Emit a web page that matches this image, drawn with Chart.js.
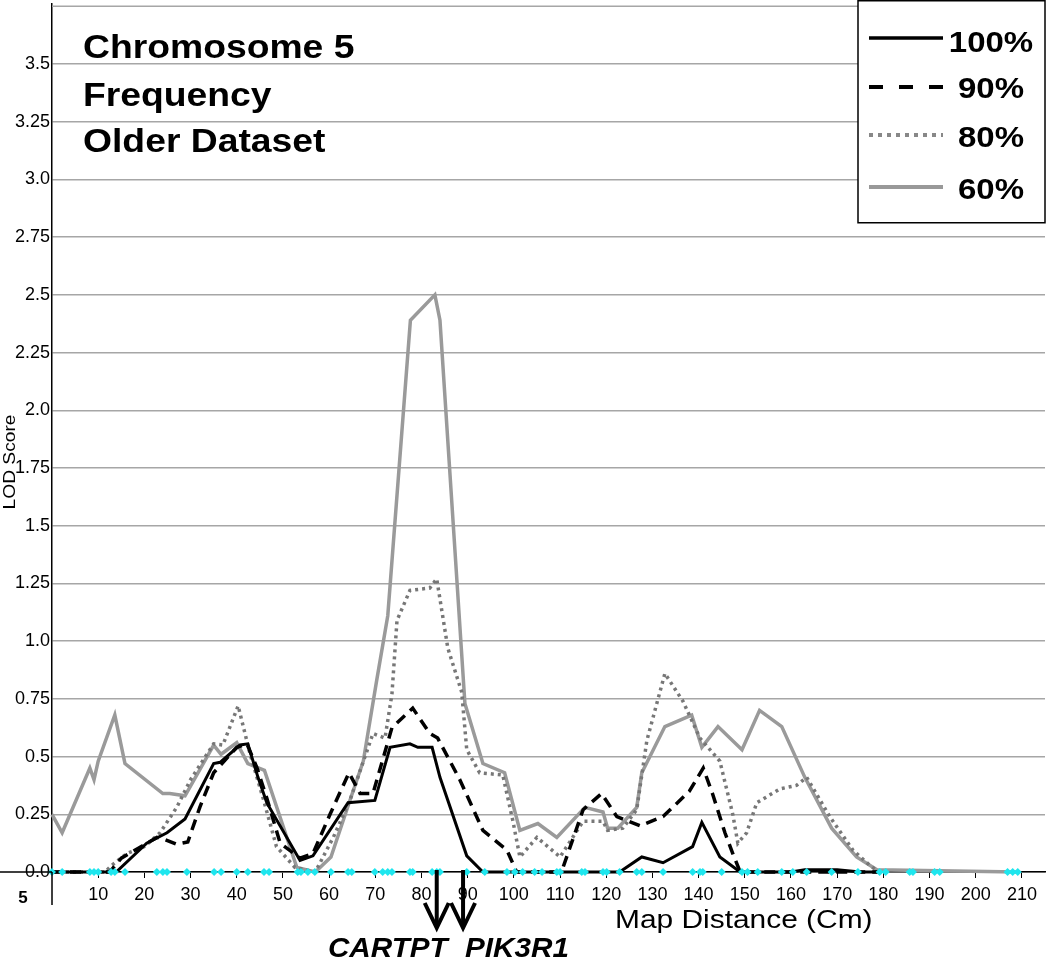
<!DOCTYPE html>
<html>
<head>
<meta charset="utf-8">
<script src="https://cdn.jsdelivr.net/npm/chart.js@4/dist/chart.umd.min.js"></script>
<style>
  html, body { margin: 0; padding: 0; background: #fff; }
</style>
</head>
<body>
<canvas id="lodChart" width="1050" height="960"></canvas>
<script>
// map positions (cM) and LOD scores
var pos100 = [0, 13.9, 20.5, 24.9, 28.8, 35, 36.4, 40.7, 42.4, 44.6, 46.5, 53.7, 56.5, 64.1, 69.9, 73.2, 77.5, 79.2, 82.3, 84, 89.8, 93.3, 122.9, 127.7, 132.3, 138.7, 140.7, 144.6, 149, 160, 163, 170, 175, 179];
var lod100 = [0, 0, 0.125, 0.17, 0.23, 0.47, 0.475, 0.55, 0.555, 0.41, 0.30, 0.05, 0.07, 0.30, 0.31, 0.54, 0.555, 0.54, 0.54, 0.41, 0.07, 0, 0, 0.065, 0.04, 0.11, 0.215, 0.065, 0, 0, 0.01, 0.01, 0, 0];

var pos90 = [0, 12.5, 15, 22.7, 24.5, 27, 29.4, 32, 35, 36.8, 40, 42.2, 44.4, 46.5, 49.4, 53.7, 56.5, 60.2, 64.3, 66.7, 69.5, 73.6, 78.1, 81.8, 83.5, 88.3, 93.3, 98.5, 100.6, 110.3, 115, 119, 122.3, 127.3, 132.3, 138, 141, 143, 145.7, 147.4, 149, 179];
var lod90 = [0, 0, 0.06, 0.15, 0.14, 0.12, 0.13, 0.28, 0.43, 0.47, 0.54, 0.555, 0.45, 0.32, 0.125, 0.06, 0.08, 0.25, 0.43, 0.34, 0.34, 0.625, 0.71, 0.60, 0.58, 0.40, 0.18, 0.095, 0, 0, 0.27, 0.34, 0.24, 0.20, 0.24, 0.35, 0.45, 0.34, 0.17, 0.08, 0, 0];

var pos80 = [0, 11.5, 13, 16.2, 20, 23.4, 27, 30, 35, 37, 40.3, 42.9, 45.7, 48.6, 52.6, 57, 60.9, 64.5, 69.5, 72.1, 73.6, 74.7, 77.5, 81.8, 83.3, 85.7, 88.7, 89.8, 92.6, 97.6, 99.8, 101.3, 105, 110, 115, 119.3, 120.3, 123.6, 126.6, 128.8, 132.7, 136.6, 140.3, 144.6, 147.4, 148.5, 150.4, 152.6, 157.6, 161.2, 163.4, 168.4, 173.4, 177, 179];
var lod80 = [0, 0, 0.03, 0.08, 0.11, 0.17, 0.28, 0.40, 0.555, 0.55, 0.72, 0.51, 0.32, 0.11, 0.02, 0, 0.15, 0.31, 0.60, 0.58, 0.77, 1.09, 1.22, 1.23, 1.27, 0.97, 0.78, 0.53, 0.43, 0.42, 0.22, 0.065, 0.15, 0.065, 0.22, 0.22, 0.18, 0.19, 0.27, 0.57, 0.86, 0.74, 0.58, 0.48, 0.25, 0.125, 0.17, 0.30, 0.36, 0.375, 0.41, 0.24, 0.095, 0.03, 0];

var pos60 = [0, 2.2, 8.2, 9.1, 10, 13.6, 15.8, 24, 25.5, 28.8, 35, 36.6, 40, 42.4, 46, 53, 57, 60.4, 64.5, 67.4, 70.3, 72.7, 77.6, 82.9, 84, 89.4, 93.3, 98, 101.3, 105.2, 109.3, 115.4, 119.3, 120.3, 122.5, 126.6, 127.7, 132.7, 138.5, 140.7, 144.2, 149.4, 153.2, 158, 163, 168.8, 174.2, 178.6, 209];
var lod60 = [0.25, 0.17, 0.45, 0.40, 0.48, 0.68, 0.47, 0.34, 0.34, 0.33, 0.55, 0.51, 0.56, 0.47, 0.44, 0.02, 0, 0.065, 0.31, 0.48, 0.83, 1.11, 2.39, 2.50, 2.39, 0.73, 0.47, 0.43, 0.18, 0.21, 0.15, 0.28, 0.26, 0.19, 0.19, 0.28, 0.43, 0.63, 0.68, 0.54, 0.63, 0.53, 0.70, 0.63, 0.41, 0.19, 0.065, 0.01, 0];

// marker positions along the axis (cyan dots)
var markerPos = [0, 2.2, 8.2, 9.1, 10.0, 12.8, 13.6, 15.8, 22.7, 24.0, 24.9, 29.2, 35.1, 36.6, 40.0, 42.4, 45.9, 47.0, 53.2, 53.9, 55.4, 56.9, 60.4, 64.1, 64.9, 69.9, 71.6, 72.7, 73.6, 77.5, 78.1, 82.3, 83.3, 84.0, 89.8, 93.7, 98.5, 100.2, 101.9, 104.5, 106.1, 109.3, 110.0, 114.7, 115.4, 119.3, 120.1, 122.9, 126.6, 127.7, 132.3, 138.7, 140.3, 140.9, 145.0, 149.4, 150.6, 152.8, 158.0, 160.4, 163.4, 168.8, 174.5, 179.2, 180.5, 185.7, 186.4, 191.1, 192.2, 206.9, 208.0, 209.1];

var seriesNames = ['100%', '90%', '80%', '60%'];
var geneNames = ['CARTPT', 'PIK3R1'];
var genePos = [83.3, 89.0];

var xTicks = [10, 20, 30, 40, 50, 60, 70, 80, 90, 100, 110, 120, 130, 140, 150, 160, 170, 180, 190, 200, 210];
var yTicks = [0, 0.25, 0.5, 0.75, 1.0, 1.25, 1.5, 1.75, 2.0, 2.25, 2.5, 2.75, 3.0, 3.25, 3.5];

var FONT = '"Liberation Sans", Arial, sans-serif';

function toPoints(xs, ys) {
  return xs.map(function(x, i) { return { x: x, y: ys[i] }; });
}

// draw text slightly widened like the original figure
function wideText(ctx, text, x, y, sx, align) {
  ctx.save();
  ctx.translate(x, y);
  ctx.scale(sx, 1);
  ctx.textAlign = align || 'left';
  ctx.fillText(text, 0, 0);
  ctx.restore();
}

// legend swatches
var legendStyles = [
  { color: '#000', width: 3.5, dash: [] },
  { color: '#000', width: 4, dash: [14, 16] },
  { color: '#888', width: 4, dash: [4, 5] },
  { color: '#999', width: 4, dash: [] }
];

var extras = {
  id: 'extras',
  afterDraw: function(chart) {
    var ctx = chart.ctx;
    var xs = chart.scales.x, ys = chart.scales.y;
    var area = chart.chartArea;
    var y0 = ys.getPixelForValue(0);

    ctx.save();
    // top gridline
    ctx.strokeStyle = '#a6a6a6';
    ctx.lineWidth = 1.5;
    ctx.beginPath();
    ctx.moveTo(area.left, ys.getPixelForValue(3.75));
    ctx.lineTo(area.right, ys.getPixelForValue(3.75));
    ctx.stroke();

    // axis extensions
    ctx.strokeStyle = '#000';
    ctx.lineWidth = 1.5;
    ctx.beginPath();
    ctx.moveTo(0, y0);
    ctx.lineTo(area.left, y0);
    ctx.moveTo(area.left, y0);
    ctx.lineTo(area.left, 905);
    ctx.stroke();

    ctx.fillStyle = '#000';
    ctx.textBaseline = 'alphabetic';

    // chromosome label
    ctx.font = 'bold 17px ' + FONT;
    ctx.textAlign = 'center';
    ctx.fillText('5', 23, 903);

    // y axis title
    ctx.save();
    ctx.translate(15, 462);
    ctx.rotate(-Math.PI / 2);
    ctx.scale(1.2, 1);
    ctx.font = '16px ' + FONT;
    ctx.textAlign = 'center';
    ctx.fillText('LOD Score', 0, 0);
    ctx.restore();

    // title block
    ctx.font = 'bold 33px ' + FONT;
    wideText(ctx, 'Chromosome 5', 83, 58, 1.13);
    wideText(ctx, 'Frequency', 83, 106, 1.13);
    wideText(ctx, 'Older Dataset', 83, 152, 1.13);

    // x axis title
    ctx.font = '26px ' + FONT;
    wideText(ctx, 'Map Distance (Cm)', 615, 928, 1.15);

    // gene arrows
    ctx.strokeStyle = '#000';
    ctx.lineWidth = 4;
    ctx.lineCap = 'butt';
    genePos.forEach(function(p, i) {
      var gx = xs.getPixelForValue(p);
      ctx.beginPath();
      ctx.moveTo(gx, y0 - 2);
      ctx.lineTo(gx, 926);
      ctx.stroke();
      ctx.beginPath();
      ctx.moveTo(gx - 12, 903);
      ctx.lineTo(gx, 928);
      ctx.lineTo(gx + 12, 903);
      ctx.stroke();
      ctx.font = 'italic bold 28px ' + FONT;
      if (i === 0) {
        wideText(ctx, geneNames[i], gx + 11, 957, 1.06, 'right');
      } else {
        wideText(ctx, geneNames[i], gx + 2, 957, 1.06, 'left');
      }
    });

    // legend box
    ctx.fillStyle = '#fff';
    ctx.fillRect(858, 0, 187, 223);
    ctx.strokeStyle = '#000';
    ctx.lineWidth = 1.5;
    ctx.strokeRect(858, 0.75, 187, 222);
    var rows = [38, 87, 135, 187];
    var base = [52, 98, 147, 199];
    legendStyles.forEach(function(st, i) {
      ctx.strokeStyle = st.color;
      ctx.lineWidth = st.width;
      ctx.setLineDash(st.dash);
      ctx.beginPath();
      ctx.moveTo(869, rows[i]);
      ctx.lineTo(943, rows[i]);
      ctx.stroke();
      ctx.setLineDash([]);
      ctx.fillStyle = '#000';
      ctx.font = 'bold 30px ' + FONT;
      wideText(ctx, seriesNames[i], 991, base[i], 1.1, 'center');
    });
    ctx.restore();
  }
};

var lodChart = new Chart(document.getElementById('lodChart'), {
  type: 'line',
  data: {
    datasets: [
      {
        label: 'markers',
        data: markerPos.map(function(p) { return { x: p, y: 0 }; }),
        showLine: false,
        pointStyle: 'rectRot',
        pointRadius: 4,
        pointBackgroundColor: '#1ee6ee',
        pointBorderWidth: 0,
        order: 0,
        clip: false
      },
      {
        label: seriesNames[0],
        data: toPoints(pos100, lod100),
        borderColor: '#000',
        borderWidth: 3,
        pointRadius: 0,
        order: 1,
        clip: false
      },
      {
        label: seriesNames[1],
        data: toPoints(pos90, lod90),
        borderColor: '#000',
        borderWidth: 3.5,
        borderDash: [11, 7],
        pointRadius: 0,
        order: 2,
        clip: false
      },
      {
        label: seriesNames[2],
        data: toPoints(pos80, lod80),
        borderColor: '#777',
        borderWidth: 3.5,
        borderDash: [3, 4],
        pointRadius: 0,
        order: 3,
        clip: false
      },
      {
        label: seriesNames[3],
        data: toPoints(pos60, lod60),
        borderColor: '#9a9a9a',
        borderWidth: 3.5,
        pointRadius: 0,
        order: 4,
        clip: false
      }
    ]
  },
  options: {
    responsive: false,
    animation: false,
    layout: { padding: { left: 0, right: 5, top: 0, bottom: 0 } },
    plugins: {
      legend: { display: false },
      tooltip: { enabled: false }
    },
    elements: { line: { tension: 0 } },
    scales: {
      x: {
        type: 'linear',
        min: 0,
        max: 215,
        afterBuildTicks: function(s) { s.ticks = xTicks.map(function(v) { return { value: v }; }); },
        afterFit: function(s) { s.height = 88; s.paddingLeft = 0; s.paddingRight = 0; },
        grid: { drawOnChartArea: false, tickLength: 6, color: '#000', lineWidth: 1 },
        border: { color: '#000', width: 1.5 },
        ticks: { color: '#000', font: { size: 18, family: FONT }, padding: 6, maxRotation: 0, autoSkip: false }
      },
      y: {
        type: 'linear',
        min: 0,
        max: 3.76,
        afterBuildTicks: function(s) { s.ticks = yTicks.map(function(v) { return { value: v }; }); },
        afterFit: function(s) { s.width = 52; s.paddingTop = 0; s.paddingBottom = 0; },
        grid: { color: '#a6a6a6', lineWidth: 1.5, tickLength: 0 },
        border: { color: '#000', width: 1.5 },
        ticks: {
          color: '#000',
          font: { size: 18, family: FONT },
          padding: 2,
          callback: function(v) { return v % 1 === 0 ? v.toFixed(1) : String(v); }
        }
      }
    }
  },
  plugins: [extras]
});
</script>
</body>
</html>
